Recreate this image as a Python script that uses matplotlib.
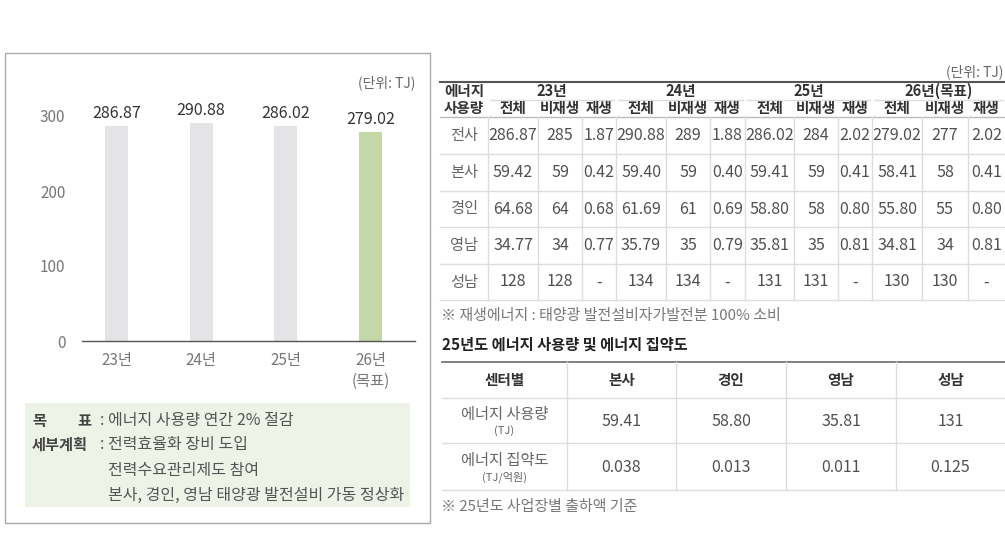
import matplotlib.pyplot as plt
from matplotlib.patches import Rectangle

plt.rcParams['font.family'] = ['Noto Sans CJK KR', 'DejaVu Sans']

# bar chart data
bar_years = ['23년', '24년', '25년', '26년\n(목표)']
bar_values = [286.87, 290.88, 286.02, 279.02]
bar_colors = ['#e4e4e6', '#e4e4e6', '#e4e4e6', '#c3d7a7']

# goal box text
goal_text = '에너지 사용량 연간 2% 절감'
plan_lines = ['전력효율화 장비 도입', '전력수요관리제도 참여', '본사, 경인, 영남 태양광 발전설비 가동 정상화']

# table 1 : energy usage by site
years = ['23년', '24년', '25년', '26년(목표)']
sub_cols = ['전체', '비재생', '재생']
sites = ['전사', '본사', '경인', '영남', '성남']
total = [
    ['286.87', '59.42', '64.68', '34.77', '128'],
    ['290.88', '59.40', '61.69', '35.79', '134'],
    ['286.02', '59.41', '58.80', '35.81', '131'],
    ['279.02', '58.41', '55.80', '34.81', '130'],
]
nonrenew = [
    ['285', '59', '64', '34', '128'],
    ['289', '59', '61', '35', '134'],
    ['284', '59', '58', '35', '131'],
    ['277', '58', '55', '34', '130'],
]
renew = [
    ['1.87', '0.42', '0.68', '0.77', '-'],
    ['1.88', '0.40', '0.69', '0.79', '-'],
    ['2.02', '0.41', '0.80', '0.81', '-'],
    ['2.02', '0.41', '0.80', '0.81', '-'],
]
note1 = '※ 재생에너지 : 태양광 발전설비자가발전분 100% 소비'

# table 2 : 2025 usage and intensity
t2_title = '25년도 에너지 사용량 및 에너지 집약도'
centers = ['본사', '경인', '영남', '성남']
usage_25 = ['59.41', '58.80', '35.81', '131']
intensity_25 = ['0.038', '0.013', '0.011', '0.125']
note2 = '※ 25년도 사업장별 출하액 기준'

DARK = '#333333'
GRAY = '#666666'
VAL = '#505050'
LINE = '#dddddd'

fig = plt.figure(figsize=(10.05, 5.36), dpi=100)
bg = fig.add_axes([0, 0, 1, 1])
bg.set_xlim(0, 1005)
bg.set_ylim(536, 0)
bg.axis('off')

# left panel frame and goal box
bg.add_patch(Rectangle((5, 53), 425, 470, fill=False, edgecolor='#aaaaaa', lw=1))
bg.add_patch(Rectangle((25, 403), 385, 104, facecolor='#eef3e8', edgecolor='none'))
bg.text(415, 83, '(단위: TJ)', ha='right', va='center', fontsize=10, color=GRAY)

bg.text(32, 421, '목', ha='left', va='center', fontsize=11, color='#444444', fontweight='bold')
bg.text(91, 421, '표', ha='right', va='center', fontsize=11, color='#444444', fontweight='bold')
bg.text(100, 421, ': ' + goal_text, ha='left', va='center', fontsize=11.5, color='#555555')
bg.text(32, 445, '세부계획', ha='left', va='center', fontsize=11, color='#444444', fontweight='bold')
bg.text(100, 445, ': ' + plan_lines[0], ha='left', va='center', fontsize=11.5, color='#555555')
for i, line in enumerate(plan_lines[1:]):
    bg.text(108, 470 + 25 * i, line, ha='left', va='center', fontsize=11.5, color='#555555')

# ---- table 1 ----
col_x = [440, 488, 538, 582, 616, 666, 710, 745, 794, 838, 872, 922, 968, 1005]
row_y = [117, 154, 191, 227, 264, 300]
bg.text(1003, 72, '(단위: TJ)', ha='right', va='center', fontsize=10, color=GRAY)
bg.plot([440, 1005], [82, 82], color='#555555', lw=1.5)
bg.plot([440, 1005], [117, 117], color='#bbbbbb', lw=1)
bg.text(464, 91, '에너지', ha='center', va='center', fontsize=10.5, color=DARK, fontweight='bold')
bg.text(464, 108, '사용량', ha='center', va='center', fontsize=10.5, color=DARK, fontweight='bold')
for g, yr in enumerate(years):
    x0 = col_x[1 + 3 * g]
    x1 = col_x[4 + 3 * g]
    bg.text((x0 + x1) / 2, 91, yr, ha='center', va='center', fontsize=10.5, color=DARK, fontweight='bold')
    bg.plot([x0 + 2, x1 - 2], [100, 100], color=LINE, lw=1)
    for k, sc in enumerate(sub_cols):
        cx = (col_x[1 + 3 * g + k] + col_x[2 + 3 * g + k]) / 2
        bg.text(cx, 108, sc, ha='center', va='center', fontsize=10.5, color=DARK, fontweight='bold')

for r, site in enumerate(sites):
    cy = (row_y[r] + row_y[r + 1]) / 2
    bg.text(464, cy, site, ha='center', va='center', fontsize=11, color=GRAY)
    for g in range(len(years)):
        vals = [total[g][r], nonrenew[g][r], renew[g][r]]
        for k, v in enumerate(vals):
            cx = (col_x[1 + 3 * g + k] + col_x[2 + 3 * g + k]) / 2
            bg.text(cx, cy, v, ha='center', va='center', fontsize=11.5, color=VAL)
    bg.plot([440, 1005], [row_y[r + 1], row_y[r + 1]], color=LINE, lw=1)
for x in col_x[1:-1]:
    bg.plot([x, x], [117, 300], color=LINE, lw=1)
bg.text(441, 316, note1, ha='left', va='center', fontsize=10.8, color='#777777')

# ---- table 2 ----
t2_x = [442, 567, 676, 786, 896, 1005]
bg.text(442, 345, t2_title, ha='left', va='center', fontsize=11, color='#222222', fontweight='bold')
bg.plot([442, 1005], [362, 362], color='#777777', lw=1.3)
for y in [398, 443, 490]:
    bg.plot([442, 1005], [y, y], color=LINE, lw=1)
for x in t2_x[1:-1]:
    bg.plot([x, x], [362, 490], color=LINE, lw=1)
lx = (t2_x[0] + t2_x[1]) / 2
bg.text(lx, 380, '센터별', ha='center', va='center', fontsize=10.5, color=DARK, fontweight='bold')
bg.text(lx, 415, '에너지 사용량', ha='center', va='center', fontsize=11, color=GRAY)
bg.text(lx, 431, '(TJ)', ha='center', va='center', fontsize=8, color=GRAY)
bg.text(lx, 461, '에너지 집약도', ha='center', va='center', fontsize=11, color=GRAY)
bg.text(lx, 477, '(TJ/억원)', ha='center', va='center', fontsize=8, color=GRAY)
for i, c in enumerate(centers):
    cx = (t2_x[i + 1] + t2_x[i + 2]) / 2
    bg.text(cx, 380, c, ha='center', va='center', fontsize=10.5, color=DARK, fontweight='bold')
    bg.text(cx, 421, usage_25[i], ha='center', va='center', fontsize=11.5, color=VAL)
    bg.text(cx, 468, intensity_25[i], ha='center', va='center', fontsize=11.5, color=VAL)
bg.text(441, 507, note2, ha='left', va='center', fontsize=10.8, color='#777777')

# ---- bar chart ----
ax = fig.add_axes([82 / 1005, (536 - 341) / 536, (415 - 82) / 1005, (341 - 86) / 536])
ax.patch.set_alpha(0)
xs = list(range(len(bar_values)))
ax.bar(xs, bar_values, width=0.27, color=bar_colors)
for x, v in zip(xs, bar_values):
    ax.annotate(f'{v:.2f}', (x, v), xytext=(0, 3), textcoords='offset points',
                ha='center', va='bottom', fontsize=11.5, color=DARK)
ax.set_xlim(-0.407, 3.525)
ax.set_ylim(0, 340)
ax.set_yticks([0, 100, 200, 300])
ax.set_xticks(xs)
ax.set_xticklabels(bar_years, linespacing=1.25)
ax.tick_params(axis='both', length=0, labelsize=11, colors='#777777')
ax.tick_params(axis='x', pad=8)
ax.tick_params(axis='y', pad=12)
for s in ['top', 'right', 'left']:
    ax.spines[s].set_visible(False)
ax.spines['bottom'].set_color('#555555')
ax.spines['bottom'].set_linewidth(1)

fig.savefig('out.png', dpi=100)
